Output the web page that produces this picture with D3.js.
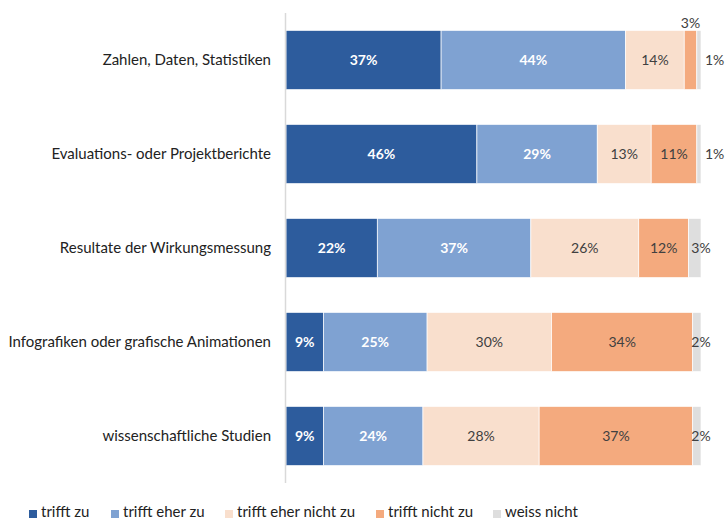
<!DOCTYPE html>
<html><head><meta charset="utf-8">
<script src="https://cdn.jsdelivr.net/npm/d3@7"></script>
<style>body{margin:0;background:#fff}svg{display:block;font-family:Lato,"Noto Sans",sans-serif}</style>
</head><body>
<svg id="c" width="725" height="519"></svg>
<script>
const categories = ["Zahlen, Daten, Statistiken","Evaluations- oder Projektberichte","Resultate der Wirkungsmessung","Infografiken oder grafische Animationen","wissenschaftliche Studien"];
const seriesNames = ["trifft zu","trifft eher zu","trifft eher nicht zu","trifft nicht zu","weiss nicht"];
const triftZu = [37,46,22,9,9];
const eherZu = [44,29,37,25,24];
const eherNicht = [14,13,26,30,28];
const nichtZu = [3,11,12,34,37];
const weissNicht = [1,1,3,2,2];
const colors = ["#2D5C9D","#7FA2D2","#F9DFCD","#F4AA7E","#DEDEDE"];

const seriesVals = [triftZu,eherZu,eherNicht,nichtZu,weissNicht];
const rows = categories.map((c,i)=>{const o={cat:c};seriesNames.forEach((s,j)=>o[s]=seriesVals[j][i]);return o;});
const stack = d3.stack().keys(seriesNames).offset(d3.stackOffsetExpand)(rows);

const svg = d3.select("#c");
const x = d3.scaleLinear().domain([0,1]).range([286,701]);
const y = d3.scaleBand().domain(categories).range([13,483]).paddingInner(0.37).paddingOuter(0.185);

const g = svg.append("g");
stack.forEach((layer,si)=>{
  g.selectAll(null).data(layer).enter().append("rect")
    .attr("x",d=>x(d[0])).attr("width",d=>x(d[1])-x(d[0]))
    .attr("y",d=>y(d.data.cat)).attr("height",y.bandwidth())
    .attr("fill",colors[si]).attr("stroke","#fff").attr("stroke-width",0.7);
});

// axis line
svg.append("line").attr("x1",285.5).attr("x2",285.5).attr("y1",13).attr("y2",483).attr("stroke","#d9d9d9").attr("stroke-width",1.5);

// category labels
svg.selectAll(null).data(categories).enter().append("text")
  .attr("x",271).attr("y",d=>y(d)+y.bandwidth()/2).attr("dy","0.35em")
  .attr("text-anchor","end").attr("font-size",15).attr("fill","#222").text(d=>d);

// value labels
stack.forEach((layer,si)=>{
  layer.forEach((d,i)=>{
    const v = seriesVals[si][i];
    const x0 = x(d[0]), x1 = x(d[1]);
    const cy = y(d.data.cat)+y.bandwidth()/2;
    const t = svg.append("text").attr("font-size",14).text(v+"%");
    if(si<2){
      t.attr("x",(x0+x1)/2).attr("y",cy).attr("dy","0.35em").attr("text-anchor","middle").attr("fill","#fff").attr("font-weight","bold");
    } else if(si<4){
      if(x1-x0<20){
        t.attr("x",(x0+x1)/2).attr("y",y(d.data.cat)-2).attr("text-anchor","middle").attr("fill","#404040");
      } else {
        t.attr("x",(x0+x1)/2).attr("y",cy).attr("dy","0.35em").attr("text-anchor","middle").attr("fill","#404040");
      }
    } else {
      if(x1-x0<8 && v<2){
        t.attr("x",x1+4).attr("y",cy).attr("dy","0.35em").attr("text-anchor","start").attr("fill","#404040");
      } else {
        t.attr("x",x1).attr("y",cy).attr("dy","0.35em").attr("text-anchor","middle").attr("fill","#404040");
      }
    }
  });
});

// legend
const legX = [29,111,225,376,493];
const lg = svg.append("g");
seriesNames.forEach((s,i)=>{
  lg.append("rect").attr("x",legX[i]).attr("y",510).attr("width",8).attr("height",8).attr("fill",colors[i]);
  lg.append("text").attr("x",legX[i]+12).attr("y",517).attr("font-size",15).attr("fill","#222").text(s);
});
</script>
</body></html>
